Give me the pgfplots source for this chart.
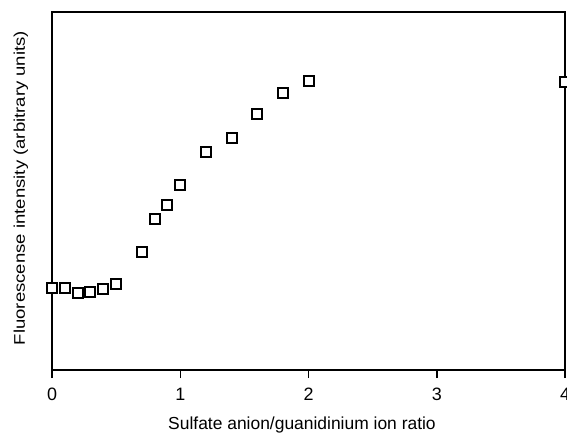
\documentclass[border=0pt]{standalone}
\usepackage{fontspec}
\setmainfont{Liberation Sans}
\usepackage{graphicx}
\usepackage{pgfplots}
\pgfplotsset{compat=1.18}
\begin{document}
\begin{tikzpicture}
\begin{axis}[
  scale only axis,
  width=513bp, height=358bp,
  xmin=0, xmax=4, ymin=0, ymax=358,
  xtick={0,1,2,3,4},
  ytick=\empty,
  xtick pos=bottom,
  tick align=outside,
  major tick length=8bp,
  axis line style={line width=2bp},
  every tick/.style={black, line width=1.5bp},
  /pgf/number format/assume math mode=true,
  tick label style={font=\fontsize{18}{20}\selectfont},
  xticklabel style={inner sep=0pt, anchor=north, yshift=-10bp},
  xlabel={Sulfate anion/guanidinium ion ratio},
  ylabel={\scalebox{1.2}[1]{Fluorescense intensity (arbitrary units)}},
  xlabel style={font=\fontsize{17.5}{20}\selectfont, inner sep=0pt,
    at={([xshift=-6.5bp,yshift=-59bp]axis description cs:0.5,0)}, anchor=base},
  ylabel style={font=\fontsize{15.5}{18}\selectfont, inner sep=0pt,
    at={([xshift=-27bp,yshift=3bp]axis description cs:0,0.5)}, anchor=base, rotate=0},
  clip=false,
]
\addplot[only marks, mark=square*, mark size=5bp,
  mark options={fill=white, draw=black, line width=2bp}]
  coordinates {
  (0,82.3) (0.1,82.3) (0.2,76.7) (0.3,78.3) (0.4,80.7) (0.5,86)
  (0.7,118.3) (0.8,150.7) (0.9,165) (1.0,185) (1.2,217.7) (1.4,231.7)
  (1.6,255.7) (1.8,276.7) (2.0,289.3) (4.0,288)
  };
\end{axis}
\pgfresetboundingbox
\path[use as bounding box] (-52bp,-63bp) rectangle (515bp,370bp);
\end{tikzpicture}
\end{document}
